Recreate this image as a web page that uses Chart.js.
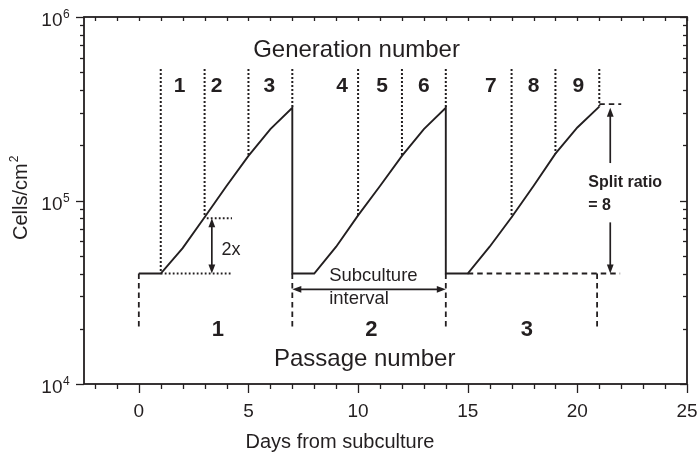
<!DOCTYPE html>
<html>
<head>
<meta charset="utf-8">
<script src="https://cdn.jsdelivr.net/npm/chart.js@4"></script>
<style>
  html, body { margin: 0; padding: 0; background: #fff; }
  #wrap { width: 699px; height: 454px; }
</style>
</head>
<body>
<div id="wrap"><canvas id="grafica" width="699" height="454"></canvas></div>
<script>
// Growth curve (days from first seeding, cells/cm2)
const days  = [0, 1, 2, 3, 4, 5, 6, 7,   7, 8, 9, 10, 11, 12, 13, 14,   14, 15, 16, 17, 18, 19, 20, 21];
const cells = [4e4, 4e4, 5.5e4, 8.1e4, 1.2e5, 1.75e5, 2.45e5, 3.2e5,
               4e4, 4e4, 5.6e4, 8.3e4, 1.2e5, 1.75e5, 2.45e5, 3.2e5,
               4e4, 4e4, 5.6e4, 8.1e4, 1.2e5, 1.8e5, 2.5e5, 3.25e5];

// Generation boundaries (dotted verticals)
const genDays    = [1, 3, 5, 7, 10, 12, 14, 17, 19, 21];
const genBottoms = [4e4, 8.1e4, 1.75e5, 3.2e5, 8.3e4, 1.75e5, 3.2e5, 8.1e4, 1.8e5, 3.25e5];
const genTop = 5.2e5;
const genLabels    = ['1', '2', '3', '4', '5', '6', '7', '8', '9'];
const genLabelDays = [1.86, 3.55, 5.95, 9.27, 11.1, 13.0, 16.05, 18.0, 20.05];

// Passages
const passageLabels    = ['1', '2', '3'];
const passageLabelDays = [3.6, 10.6, 17.7];
const subcultureDays = [0, 7, 14, 20.9];
const seedDensity = 4e4;
const markLow = 2e4;
const splitRatio = 8;

// Axis ticks
const xTicks = [0, 5, 10, 15, 20, 25];
const yExponents = [4, 5, 6];

const ink = '#231f20';
const fam = '"Liberation Sans", Arial, Helvetica, sans-serif';

function pts(xs, ys) { return xs.map((x, i) => ({ x: x, y: ys[i] })); }

// dotted guides
const dotted = [];
genDays.forEach((d, i) => {
    dotted.push({ x: d, y: genTop }, { x: d, y: genBottoms[i] }, { x: d, y: null });
});
dotted.push({ x: 1, y: seedDensity }, { x: 4.25, y: seedDensity }, { x: 4.25, y: null });
dotted.push({ x: 3.1, y: 2 * seedDensity }, { x: 4.25, y: 2 * seedDensity }, { x: 4.25, y: null });

// dashed guides
const dashed = [];
subcultureDays.forEach(d => {
    dashed.push({ x: d, y: seedDensity }, { x: d, y: markLow }, { x: d, y: null });
});
dashed.push({ x: 15, y: seedDensity }, { x: 21.95, y: seedDensity }, { x: 21.95, y: null });
dashed.push({ x: 21, y: 3.35e5 }, { x: 22, y: 3.35e5 });

function head(ctx, x, y, dx, dy) {
    const len = 9, hw = 3.4;
    ctx.beginPath();
    ctx.moveTo(x, y);
    ctx.lineTo(x - dx * len - dy * hw, y - dy * len + dx * hw);
    ctx.lineTo(x - dx * len + dy * hw, y - dy * len - dx * hw);
    ctx.closePath();
    ctx.fill();
}
function shaft(ctx, x1, y1, x2, y2) {
    ctx.beginPath();
    ctx.moveTo(x1, y1);
    ctx.lineTo(x2, y2);
    ctx.stroke();
}

const decor = {
    id: 'decor',
    afterDraw(chart) {
        const ctx = chart.ctx;
        const a = chart.chartArea;
        const xs = chart.scales.x, ys = chart.scales.y;
        const X = d => xs.getPixelForValue(d);
        const Y = v => ys.getPixelForValue(v);

        ctx.save();
        ctx.strokeStyle = ink;
        ctx.fillStyle = ink;
        ctx.setLineDash([]);

        // frame
        ctx.lineWidth = 1.8;
        ctx.strokeRect(a.left, a.top, a.right - a.left, a.bottom - a.top);

        // x ticks
        ctx.lineWidth = 1.3;
        for (let d = -2; d <= 25; d++) {
            const px = Math.round(X(d)) + 0.5;
            const big = d % 5 === 0;
            shaft(ctx, px, a.bottom, px, a.bottom + (big ? 9 : 5));
            shaft(ctx, px, a.top, px, a.top + 4);
        }
        // y ticks
        for (let e = 4; e <= 6; e++) {
            for (let m = 1; m <= 9; m++) {
                if (e === 6 && m > 1) break;
                const py = Math.round(Y(m * Math.pow(10, e))) + 0.5;
                const big = m === 1;
                shaft(ctx, a.left - (big ? 8 : 4), py, a.left, py);
                shaft(ctx, a.right - (big ? 7 : 4), py, a.right, py);
            }
        }

        // tick labels
        ctx.textBaseline = 'alphabetic';
        ctx.font = '19px ' + fam;
        ctx.textAlign = 'center';
        xTicks.forEach(v => ctx.fillText(String(v), X(v), a.bottom + 33));
        yExponents.forEach(e => {
            const py = Y(Math.pow(10, e));
            ctx.font = '19px ' + fam;
            ctx.textAlign = 'right';
            ctx.fillText('10', a.left - 21.5, py + 9);
            ctx.font = '12px ' + fam;
            ctx.textAlign = 'left';
            ctx.fillText(String(e), a.left - 21, py + 1);
        });

        // axis titles
        ctx.font = '20px ' + fam;
        ctx.textAlign = 'center';
        ctx.fillText('Days from subculture', 340, a.bottom + 64);
        ctx.save();
        ctx.translate(27, 240);
        ctx.rotate(-Math.PI / 2);
        ctx.textAlign = 'left';
        ctx.fillText('Cells/cm', 0, 0);
        const w = ctx.measureText('Cells/cm').width;
        ctx.font = '12px ' + fam;
        ctx.fillText('2', w + 1, -9);
        ctx.restore();

        // headings
        ctx.font = '24px ' + fam;
        ctx.textAlign = 'center';
        ctx.fillText('Generation number', X(9.93), Y(6.05e5));
        ctx.fillText('Passage number', X(10.3), Y(1.25e4));

        ctx.font = 'bold 21px ' + fam;
        genLabels.forEach((t, i) => ctx.fillText(t, X(genLabelDays[i]), Y(3.9e5)));
        ctx.font = 'bold 22px ' + fam;
        passageLabels.forEach((t, i) => ctx.fillText(t, X(passageLabelDays[i]), Y(1.83e4)));

        // 2x doubling arrow
        ctx.lineWidth = 1.7;
        const x2 = X(3.33);
        shaft(ctx, x2, Y(2 * seedDensity) + 4, x2, Y(seedDensity) - 4);
        head(ctx, x2, Y(2 * seedDensity), 0, -1);
        head(ctx, x2, Y(seedDensity), 0, 1);
        ctx.font = '18px ' + fam;
        ctx.textAlign = 'left';
        ctx.fillText('2x', X(3.77), Y(5.05e4));

        // subculture interval arrow
        const ya = Y(3.28e4);
        shaft(ctx, X(7) + 4, ya, X(14) - 4, ya);
        head(ctx, X(7), ya, -1, 0);
        head(ctx, X(14), ya, 1, 0);
        ctx.font = '18.5px ' + fam;
        ctx.fillText('Subculture', X(8.68), Y(3.64e4));
        ctx.fillText('interval', X(8.68), Y(2.72e4));

        // split ratio arrow
        const xsr = X(21.5);
        shaft(ctx, xsr, Y(3.2e5) + 4, xsr, Y(1.6e5));
        head(ctx, xsr, Y(3.2e5), 0, -1);
        shaft(ctx, xsr, Y(7.6e4), xsr, Y(seedDensity) - 4);
        head(ctx, xsr, Y(seedDensity), 0, 1);
        ctx.font = 'bold 16px ' + fam;
        ctx.fillText('Split ratio', X(20.5), Y(1.19e5));
        ctx.fillText('= ' + splitRatio, X(20.5), Y(8.87e4));

        ctx.restore();
    }
};

const config = {
    type: 'line',
    data: {
        datasets: [
            {
                data: pts(days, cells),
                borderColor: ink,
                borderWidth: 1.9,
                borderJoinStyle: 'miter',
                pointRadius: 0,
                tension: 0
            },
            {
                data: dotted,
                borderColor: ink,
                borderWidth: 2,
                borderDash: [1.8, 2.2],
                pointRadius: 0,
                spanGaps: false
            },
            {
                data: dashed,
                borderColor: ink,
                borderWidth: 1.8,
                borderDash: [5.5, 4],
                pointRadius: 0,
                spanGaps: false
            }
        ]
    },
    options: {
        responsive: false,
        animation: false,
        devicePixelRatio: 1,
        layout: { padding: { left: 84, top: 17, right: 12, bottom: 70 } },
        scales: {
            x: { type: 'linear', min: -2.5, max: 25, display: false },
            y: { type: 'logarithmic', min: 1e4, max: 1e6, display: false }
        },
        plugins: {
            legend: { display: false },
            tooltip: { enabled: false }
        }
    },
    plugins: [decor]
};

new Chart(document.getElementById('grafica'), config);
</script>
</body>
</html>
